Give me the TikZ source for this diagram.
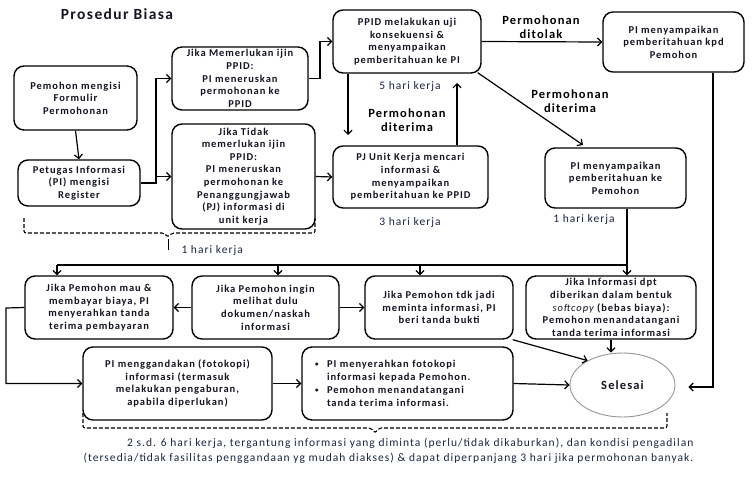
\documentclass[tikz,border=0pt]{standalone}
\usepackage{fontspec}
\setmainfont{Carlito}[LetterSpace=9]
\usetikzlibrary{arrows.meta,shapes.geometric,calc}
\definecolor{txt}{RGB}{18,20,34}
\definecolor{lbl}{RGB}{28,36,66}
\definecolor{selg}{RGB}{150,150,150}
\newcommand\mybul{\makebox[12pt][l]{\raisebox{1.3pt}{\fontsize{7}{7}\selectfont •}}}
\begin{document}
\begin{tikzpicture}[x=1pt,y=-1pt,
  box/.style={draw, line width=1.4pt, rounded corners=10pt, align=center,
    font=\fontsize{10.5}{12.6}\selectfont\bfseries, text=txt, inner sep=1pt},
  arr/.style={line width=1.2pt, -{Straight Barb[length=4pt,width=8pt]}},
  ln/.style={line width=1.2pt},
  brk/.style={line width=1.1pt, dash pattern=on 4pt off 2pt, rounded corners=2pt},
  hk/.style={font=\fontsize{11.5}{14}\selectfont, text=lbl},
  bl/.style={font=\fontsize{12.5}{14.5}\selectfont\bfseries, align=center, text=black}
]
\useasboundingbox (0,0) rectangle (753,479);

\node[font=\fontsize{15.5}{18}\selectfont\bfseries, text=txt] (title) at (117,14) {Prosedur Biasa};

\node[box, minimum width=123pt, minimum height=64pt] (n1) at (75.5,98) {Pemohon mengisi\\Formulir\\Permohonan};
\node[box, minimum width=122pt, minimum height=46pt] (n2) at (79,183) {Petugas Informasi\\(PI) mengisi\\Register};
\node[box, minimum width=136pt, minimum height=63pt] (n3) at (240,78.5) {Jika Memerlukan ijin\\PPID:\\PI meneruskan\\permohonan ke\\PPID};
\node[box, minimum width=143pt, minimum height=105pt] (n4) at (243.5,176.5) {Jika Tidak\\memerlukan ijin\\PPID:\\PI meneruskan\\permohonan ke\\Penanggungjawab\\(PJ) informasi di\\unit kerja};
\node[box, minimum width=148pt, minimum height=63pt] (n5) at (407,41.5) {PPID melakukan uji\\konsekuensi \&\\menyampaikan\\pemberitahuan ke PI};
\node[box, minimum width=141pt, minimum height=60pt] (n6) at (673.5,42) {PI menyampaikan\\pemberitahuan kpd\\Pemohon};
\node[box, minimum width=155pt, minimum height=62pt] (n7) at (410.5,177) {PJ Unit Kerja mencari\\informasi \&\\menyampaikan\\pemberitahuan ke PPID};
\node[box, minimum width=141pt, minimum height=60pt] (n8) at (615.5,178) {PI menyampaikan\\pemberitahuan ke\\Pemohon};

\node[box, minimum width=148pt, minimum height=63pt] (n9) at (99,307.5) {Jika Pemohon mau \&\\membayar biaya, PI\\menyerahkan tanda\\terima pembayaran};
\node[box, minimum width=147pt, minimum height=63pt] (n10) at (265.5,307.5) {Jika Pemohon ingin\\melihat dulu\\dokumen/naskah\\informasi};
\node[box, minimum width=148pt, minimum height=63pt] (n11) at (439,307.5) {Jika Pemohon tdk jadi\\meminta informasi, PI\\beri tanda bukti};
\node[box, minimum width=170pt, minimum height=63pt] (n12) at (611,307.5) {Jika Informasi dpt\\diberikan dalam bentuk\\{\mdseries\itshape softcopy} (bebas biaya):\\Pemohon menandatangani\\tanda terima informasi};

\node[box, minimum width=189pt, minimum height=73pt] (n13) at (177.5,383.5) {PI menggandakan (fotokopi)\\informasi (termasuk\\melakukan pengaburan,\\apabila diperlukan)};
\node[box, minimum width=211pt, minimum height=73pt, text width=185pt, align=left] (n14) at (407.5,383.5) {\mybul PI menyerahkan fotokopi\\\hspace*{12pt}informasi kepada Pemohon.\\[1pt]\mybul Pemohon menandatangani\\\hspace*{12pt}tanda terima informasi.};
\node[ellipse, draw=selg, line width=0.9pt, minimum width=105pt, minimum height=64pt,
  font=\fontsize{12.5}{14}\selectfont\bfseries, text=txt] (sel) at (622.5,385) {Selesai};

% labels
\node[bl] (lt) at (541,27) {Permohonan\\ditolak};
\node[bl] (ld) at (570,101) {Permohonan\\diterima};
\node[bl] (ld2) at (407,120) {Permohonan\\diterima};
\node[hk] (h5) at (410,86) {5 hari kerja};
\node[hk] (h3) at (410,222) {3 hari kerja};
\node[hk] (h1b) at (584,219) {1 hari kerja};
\node[hk, anchor=west] (h1a) at (178,250) {1 hari kerja};
\node[hk, align=right, anchor=east, font=\fontsize{11.5}{15}\selectfont] (bt) at (697,450.5) {2 s.d. 6 hari kerja, tergantung informasi yang diminta (perlu/tidak dikaburkan), dan kondisi pengadilan\\(tersedia/tidak fasilitas penggandaan yg mudah diakses) \& dapat diperpanjang 3 hari jika permohonan banyak.};

% connectors
\draw[arr] (n1.south) -- (n2.north);
\coordinate (j1) at (156,183);
\draw[arr] (n2.east) -- (j1) |- (n3.west);
\draw[arr] (j1) |- (n4.west);
\coordinate (j2) at (320,78.5);
\draw[arr] (n3.east) -- (j2) |- (n5.west);
\draw[arr] (n4.east) -- (n7.west);
\coordinate (d1b) at (348,135);
\draw[arr] (n5.south -| d1b) -- (d1b);
\coordinate (u1) at (457,83);
\draw[arr] (n7.north -| u1) -- (u1);
\draw[arr] (n5.east) -- (n6.west);
\coordinate (d2) at (583,145);
\draw[arr] ($(n5.south east)+(-4,-1)$) -- (d2);

\coordinate (hR) at (627,265);
\coordinate (hL) at (57,265);
\coordinate (hA) at (278,265);
\coordinate (hB) at (420,265);
\draw[ln] (n8.south -| hR) -- (hR) -- (hL);
\draw[arr] (hL) -- (n9.north -| hL);
\draw[arr] (hA) -- (n10.north -| hA);
\draw[arr] (hB) -- (n11.north -| hB);
\draw[arr] (hR) -- (n12.north -| hR);

\draw[arr] (n10.west) -- (n9.east);
\draw[arr] (n10.east) -- (n11.west);
\coordinate (l1) at (6,308);
\draw[arr] (n9.west) -- (l1) |- (n13.west);
\draw[arr] (n13.east) -- (n14.west);
\draw[arr] (n14.east) -- (sel.west);
\draw[arr] ($(n11.south east)+(-1,0)$) -- (sel.145);
\draw[arr] (n12.south) -- (n12.south |- sel.north);
\coordinate (r1) at (713,387);
\draw[arr, shorten >=13pt] (n6.south -| r1) -- (r1) -- (sel.east |- r1);

% brackets
\draw[brk] (24,218) -- (24,233) -- (164,233) -- (168,237) -- (172,233) -- (315,233) -- (315,218);
\draw[line width=1pt] (168,239) -- (168,250);
\draw[brk] (83,413) -- (83,428) -- (371,428) -- (375,433) -- (379,428) -- (667,428) -- (667,413);
\end{tikzpicture}
\end{document}
